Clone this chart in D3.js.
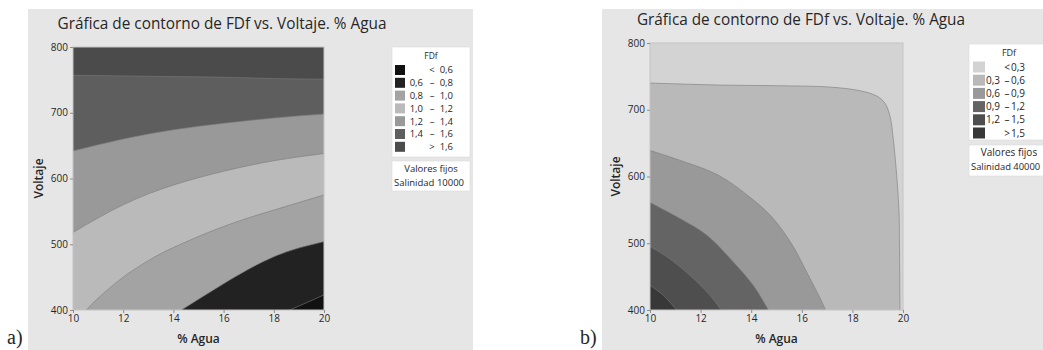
<!DOCTYPE html>
<html>
<head>
<meta charset="utf-8">
<script src="https://cdn.jsdelivr.net/npm/d3@7"></script>
<style>
  body { margin: 0; background: #fff; }
  svg text { font-family: "Open Sans", "Noto Sans", sans-serif; fill: #262626; }
</style>
</head>
<body>
<div id="chart"></div>
<script>
// ticks shared by both panels
const aguaTicks = [10, 12, 14, 16, 18, 20];
const voltTicks = [400, 500, 600, 700, 800];

// panel a legend (FDf classes) and greys
const fdfA_lo = ["", "0,6", "0,8", "1,0", "1,2", "1,4", ""];
const fdfA_sym = ["<", "–", "–", "–", "–", "–", ">"];
const fdfA_hi = ["0,6", "0,8", "1,0", "1,2", "1,4", "1,6", "1,6"];
const greysA = ["#111111", "#222222", "#a3a3a3", "#bababa", "#999999", "#5e5e5e", "#4b4b4b"];

// panel a contour lines [% agua, voltaje]
const contA_16 = [[10, 757], [12, 756], [14, 755], [16, 754], [18, 752], [20, 751]];
const contA_14 = [[10, 642], [12, 660], [14, 674], [16, 684], [18, 692], [20, 698]];
const contA_12 = [[10, 518], [12, 560], [14, 590], [16, 611], [18, 627], [20, 638]];
const contA_10 = [[10.53, 400], [11, 418], [12, 450], [13, 475], [14, 495], [16, 527], [18, 552], [20, 575]];
const contA_08 = [[14.32, 400], [16, 440], [18, 481], [20, 504]];
const contA_06 = [[18.63, 400], [19.3, 411], [20, 423]];

// panel b legend and greys
const fdfB_lo = ["", "0,3", "0,6", "0,9", "1,2", ""];
const fdfB_sym = ["<", "–", "–", "–", "–", ">"];
const fdfB_hi = ["0,3", "0,6", "0,9", "1,2", "1,5", "1,5"];
const greysB = ["#d3d3d3", "#b9b9b9", "#999999", "#646464", "#4e4e4e", "#383838"];

// panel b contour lines
const contB_03 = [[10, 740], [12.8, 737], [15, 736], [17.1, 734], [18.3, 728.5], [18.96, 720.6], [19.29, 709.6],
  [19.49, 689.6], [19.62, 654.7], [19.75, 602], [19.84, 550], [19.86, 500], [19.88, 400]];
const contB_06 = [[10, 639], [11.05, 626], [12.7, 602], [14.08, 565], [14.87, 537], [15.66, 495], [16.19, 457], [16.72, 418], [16.94, 400]];
const contB_09 = [[10, 561], [11.19, 537], [12.25, 512], [13.29, 472], [14.08, 437], [14.68, 400]];
const contB_12 = [[10, 495], [10.66, 480], [11.58, 452], [12.37, 422], [12.81, 400]];
const contB_15 = [[10, 437], [10.53, 422], [11.05, 400]];

const W = 1043, H = 350;
const svg = d3.select('#chart').append('svg')
  .attr('width', W).attr('height', H)
  .attr('viewBox', [0, 0, W, H]);

function drawPanel(p) {
  const g = svg.append('g');

  // grey panel background
  g.append('rect').attr('x', p.bg[0]).attr('y', p.bg[1])
    .attr('width', p.bg[2]).attr('height', p.bg[3]).attr('fill', '#e6e6e6');

  const x = d3.scaleLinear().domain([10, 20]).range([p.plot[0], p.plot[1]]);
  const y = d3.scaleLinear().domain([400, 800]).range([p.plot[3], p.plot[2]]);

  const clipId = 'clip' + p.name;
  g.append('clipPath').attr('id', clipId).append('rect')
    .attr('x', x(10)).attr('y', y(800))
    .attr('width', x(20) - x(10)).attr('height', y(400) - y(800));

  const area = g.append('g').attr('clip-path', `url(#${clipId})`);
  area.append('rect')
    .attr('x', x(10)).attr('y', y(800))
    .attr('width', x(20) - x(10)).attr('height', y(400) - y(800))
    .attr('fill', p.greys[p.base]);

  const line = d3.line().x(d => x(d[0])).y(d => y(d[1])).curve(p.curve);

  p.contours.forEach((c, i) => {
    const closing = p.corners.map(d => `L${x(d[0])},${y(d[1])}`).join('');
    area.append('path')
      .attr('d', line(c) + closing + 'Z')
      .attr('fill', p.greys[p.fills[i]]);
  });
  p.contours.forEach(c => {
    area.append('path').attr('d', line(c))
      .attr('fill', 'none').attr('stroke', '#7a7a7a').attr('stroke-width', 0.6);
  });

  g.append('rect')
    .attr('x', x(10)).attr('y', y(800))
    .attr('width', x(20) - x(10)).attr('height', y(400) - y(800))
    .attr('fill', 'none').attr('stroke', '#c4c4c4').attr('stroke-width', 1);

  // axes
  const ay = g.append('g').attr('transform', `translate(${x(10)},0)`)
    .call(d3.axisLeft(y).tickValues(voltTicks).tickSize(3).tickPadding(2));
  const ax = g.append('g').attr('transform', `translate(0,${y(400)})`)
    .call(d3.axisBottom(x).tickValues(aguaTicks).tickSize(3).tickPadding(2));
  [ax, ay].forEach(a => {
    a.select('.domain').remove();
    a.selectAll('line').attr('stroke', '#8c8c8c');
    a.selectAll('text').attr('font-size', 10).attr('fill', '#262626')
      .style('font-family', '"Open Sans", sans-serif');
  });

  // titles
  g.append('text').attr('x', p.title[0]).attr('y', p.title[1])
    .attr('text-anchor', 'middle').attr('font-size', 16.5)
    .attr('textLength', p.title[2]).attr('lengthAdjust', 'spacingAndGlyphs')
    .text('Gráfica de contorno de FDf vs. Voltaje. % Agua');
  g.append('text').attr('x', (x(10) + x(20)) / 2).attr('y', p.xlab)
    .attr('text-anchor', 'middle').attr('font-size', 12).attr('font-weight', 600)
    .text('% Agua');
  g.append('text')
    .attr('transform', `translate(${p.ylab},${(y(400) + y(800)) / 2}) rotate(-90)`)
    .attr('text-anchor', 'middle').attr('font-size', 12).attr('font-weight', 600)
    .text('Voltaje');

  // legend
  const L = p.legend;
  g.append('rect').attr('x', L.x).attr('y', L.y).attr('width', L.w).attr('height', L.h)
    .attr('fill', '#fff').attr('stroke', '#dadada').attr('stroke-width', 0.6);
  g.append('text').attr('x', L.x + L.w / 2).attr('y', L.y + 12)
    .attr('text-anchor', 'middle').attr('font-size', L.fs - 1).text('FDf');
  const rows = g.append('g').selectAll('g').data(p.lo).join('g')
    .attr('transform', (d, i) => `translate(0,${L.row0 + i * L.dy})`);
  rows.append('rect').attr('x', L.sw[0]).attr('y', -L.sw[2] / 2)
    .attr('width', L.sw[1]).attr('height', L.sw[2])
    .attr('fill', (d, i) => p.greys[i]);
  rows.append('text').attr('x', L.cols[0]).attr('dy', '0.35em')
    .attr('text-anchor', 'end').attr('font-size', L.fs).text(d => d);
  rows.append('text').attr('x', L.cols[1]).attr('dy', '0.35em')
    .attr('text-anchor', 'middle').attr('font-size', L.fs).text((d, i) => p.sym[i]);
  rows.append('text').attr('x', L.cols[2]).attr('dy', '0.35em')
    .attr('text-anchor', 'end').attr('font-size', L.fs).text((d, i) => p.hi[i]);

  g.append('rect').attr('x', L.x).attr('y', L.fy).attr('width', L.w).attr('height', L.fh)
    .attr('fill', '#fff').attr('stroke', '#dadada').attr('stroke-width', 0.6);
  g.append('text').attr('x', L.x + L.w / 2).attr('y', L.fy + 11)
    .attr('text-anchor', 'middle').attr('font-size', L.fs).text('Valores fijos');
  g.append('text').attr('x', L.x + 2).attr('y', L.fy + 25)
    .attr('font-size', L.ffs).text(p.fixed);

  // panel letter
  svg.append('text').attr('x', p.letter[0]).attr('y', p.letter[1])
    .attr('font-size', 20).style('font-family', '"Liberation Serif", "Times New Roman", serif')
    .attr('fill', '#000').text(p.name + ')');
}

drawPanel({
  name: 'a',
  bg: [28, 9, 445, 341],
  plot: [73, 324, 47, 310],
  greys: greysA, base: 6,
  curve: d3.curveNatural,
  contours: [contA_16, contA_14, contA_12, contA_10, contA_08, contA_06],
  fills: [5, 4, 3, 2, 1, 0],
  corners: [[20, 400], [10, 400]],
  title: [222, 29, 329],
  xlab: 343, ylab: 43,
  lo: fdfA_lo, sym: fdfA_sym, hi: fdfA_hi,
  legend: { x: 392, y: 47, w: 78, h: 110, row0: 70, dy: 12.8, sw: [395, 10, 10],
            cols: [423, 432, 453], fy: 161, fh: 30, fs: 9.5, ffs: 9.5 },
  fixed: 'Salinidad  10000',
  letter: [7, 344]
});

drawPanel({
  name: 'b',
  bg: [602, 9, 450, 341],
  plot: [650, 903, 43, 310],
  greys: greysB, base: 0,
  curve: d3.curveCatmullRom.alpha(0.5),
  contours: [contB_03, contB_06, contB_09, contB_12, contB_15],
  fills: [1, 2, 3, 4, 5],
  corners: [[10, 400]],
  title: [801, 25, 328],
  xlab: 343, ylab: 620,
  lo: fdfB_lo, sym: fdfB_sym, hi: fdfB_hi,
  legend: { x: 969, y: 44, w: 80, h: 96, row0: 67, dy: 13.2, sw: [973, 12, 11],
            cols: [1000, 1007, 1025], fy: 145, fh: 31, fs: 10, ffs: 9.4 },
  fixed: 'Salinidad 40000',
  letter: [580, 344]
});
</script>
</body>
</html>
